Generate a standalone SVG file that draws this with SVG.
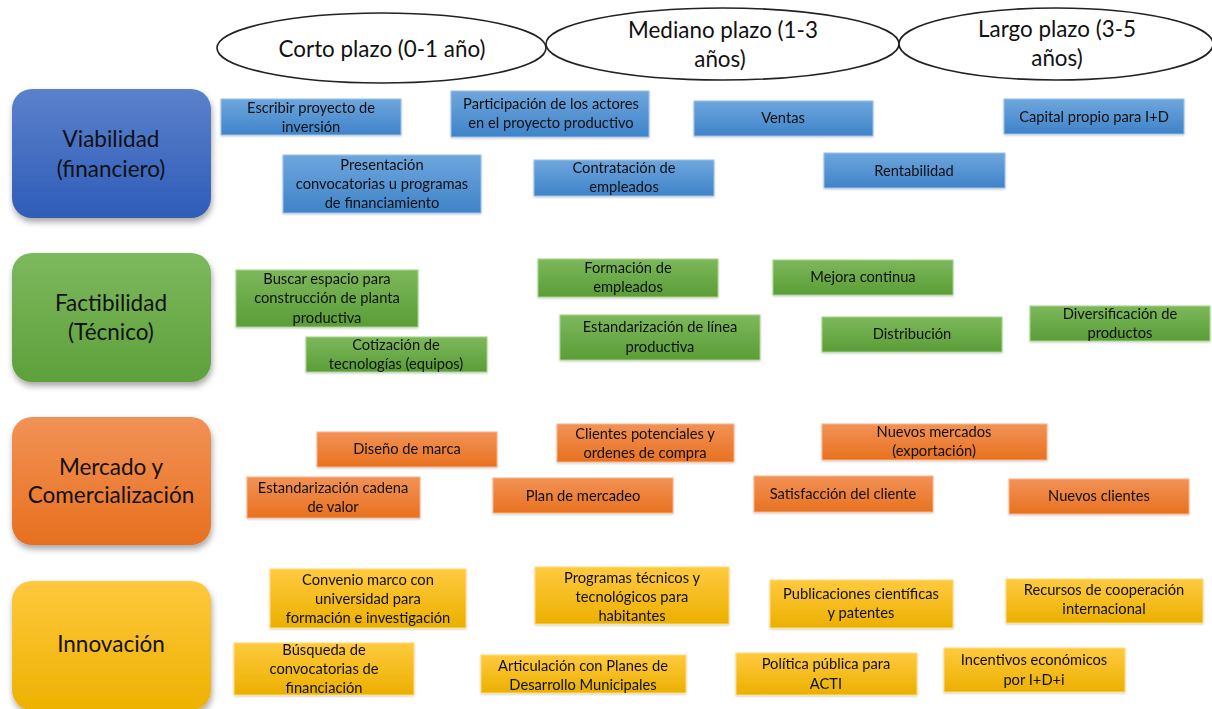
<svg xmlns="http://www.w3.org/2000/svg" width="1212" height="709" viewBox="0 0 1212 709">
<defs>
<linearGradient id="gCatB" x1="0" y1="0" x2="0" y2="1"><stop offset="0" stop-color="#5B81CB"/><stop offset="1" stop-color="#2F5CB9"/></linearGradient>
<linearGradient id="gCatG" x1="0" y1="0" x2="0" y2="1"><stop offset="0" stop-color="#7DB85E"/><stop offset="1" stop-color="#5EA03A"/></linearGradient>
<linearGradient id="gCatO" x1="0" y1="0" x2="0" y2="1"><stop offset="0" stop-color="#F29256"/><stop offset="1" stop-color="#E7701F"/></linearGradient>
<linearGradient id="gCatY" x1="0" y1="0" x2="0" y2="1"><stop offset="0" stop-color="#FFC83E"/><stop offset="1" stop-color="#EDB200"/></linearGradient>
<linearGradient id="gB" x1="0" y1="0" x2="0" y2="1"><stop offset="0" stop-color="#6EA6DD"/><stop offset="1" stop-color="#3F83C9"/></linearGradient>
<linearGradient id="gG" x1="0" y1="0" x2="0" y2="1"><stop offset="0" stop-color="#7DB85C"/><stop offset="1" stop-color="#5A9D36"/></linearGradient>
<linearGradient id="gO" x1="0" y1="0" x2="0" y2="1"><stop offset="0" stop-color="#F29256"/><stop offset="1" stop-color="#E8711F"/></linearGradient>
<linearGradient id="gY" x1="0" y1="0" x2="0" y2="1"><stop offset="0" stop-color="#FFCA3F"/><stop offset="1" stop-color="#EBB000"/></linearGradient>
<filter id="sh" x="-10%" y="-10%" width="125%" height="130%"><feDropShadow dx="1" dy="4" stdDeviation="3" flood-color="#000" flood-opacity="0.35"/></filter>
<filter id="sh2" x="-5%" y="-10%" width="110%" height="130%"><feDropShadow dx="0" dy="1" stdDeviation="1" flood-color="#000" flood-opacity="0.2"/></filter>
</defs>
<style>
.ell{fill:#fff;stroke:#222;stroke-width:1.6}
.et{font-family:Lato,"Liberation Sans",sans-serif;font-size:22.4px;fill:#111;text-anchor:middle}
.cat{stroke:none;filter:url(#sh)}
.ct{font-family:Lato,"Liberation Sans",sans-serif;font-size:22.5px;fill:#111;text-anchor:middle}
.it{filter:url(#sh2)}
.b{fill:url(#gB);stroke:#9CC2EA;stroke-width:1}
.g{fill:url(#gG);stroke:#A6D38A;stroke-width:1}
.o{fill:url(#gO);stroke:#F7B58A;stroke-width:1}
.y{fill:url(#gY);stroke:#FFDD7A;stroke-width:1}
.t{font-family:Lato,"Liberation Sans",sans-serif;font-size:14.7px;fill:#111;text-anchor:middle}
</style>
<rect width="1212" height="709" fill="#fff"/>
<g id="connectors"></g>

<g id="h-corto"><ellipse class="ell" cx="381.5" cy="48" rx="164.5" ry="35"/><text class="et" x="382" y="57">Corto plazo (0-1 año)</text></g>
<g id="h-mediano"><ellipse class="ell" cx="722.5" cy="44" rx="176.5" ry="36"/><text class="et" x="723" y="38">Mediano plazo (1-3</text><text class="et" x="720" y="67">años)</text></g>
<g id="h-largo"><ellipse class="ell" cx="1056" cy="44" rx="157" ry="36"/><text class="et" x="1057" y="37">Largo plazo (3-5</text><text class="et" x="1057" y="66">años)</text></g>

<g id="cat-viabilidad"><rect class="cat" x="12" y="89" width="199" height="129" rx="20" fill="url(#gCatB)"/><text class="ct" x="111" y="147">Viabilidad</text><text class="ct" x="111" y="177">(financiero)</text></g>
<g id="cat-factibilidad"><rect class="cat" x="12" y="253" width="199" height="129" rx="20" fill="url(#gCatG)"/><text class="ct" x="111" y="311">Factibilidad</text><text class="ct" x="111" y="340">(Técnico)</text></g>
<g id="cat-mercado"><rect class="cat" x="12" y="417" width="199" height="128" rx="20" fill="url(#gCatO)"/><text class="ct" x="111" y="475">Mercado y</text><text class="ct" x="111" y="503">Comercialización</text></g>
<g id="cat-innovacion"><rect class="cat" x="12" y="581" width="199" height="129" rx="20" fill="url(#gCatY)"/><text class="ct" x="111" y="652">Innovación</text></g>

<g id="n-escribir" class="it"><rect class="b" x="221" y="99" width="180" height="36"/><text class="t" x="311" y="113">Escribir proyecto de</text><text class="t" x="311" y="132">inversión</text></g>
<g id="n-participacion" class="it"><rect class="b" x="451" y="91" width="198" height="46"/><text class="t" x="551" y="109">Participación de los actores</text><text class="t" x="551" y="128">en el proyecto productivo</text></g>
<g id="n-ventas" class="it"><rect class="b" x="694" y="101" width="179" height="35"/><text class="t" x="783" y="123">Ventas</text></g>
<g id="n-capital" class="it"><rect class="b" x="1004" y="99" width="180" height="35"/><text class="t" x="1094" y="122">Capital propio para I+D</text></g>
<g id="n-presentacion" class="it"><rect class="b" x="283" y="155" width="198" height="58"/><text class="t" x="382" y="170">Presentación</text><text class="t" x="382" y="189">convocatorias u programas</text><text class="t" x="382" y="208">de financiamiento</text></g>
<g id="n-contratacion" class="it"><rect class="b" x="534" y="160" width="180" height="36"/><text class="t" x="624" y="173">Contratación de</text><text class="t" x="624" y="192">empleados</text></g>
<g id="n-rentabilidad" class="it"><rect class="b" x="824" y="153" width="181" height="35"/><text class="t" x="914" y="176">Rentabilidad</text></g>

<g id="n-buscar" class="it"><rect class="g" x="236" y="270" width="182" height="57"/><text class="t" x="327" y="284">Buscar espacio para</text><text class="t" x="327" y="303">construcción de planta</text><text class="t" x="327" y="323">productiva</text></g>
<g id="n-cotizacion" class="it"><rect class="g" x="306" y="337" width="181" height="35"/><text class="t" x="396" y="350">Cotización de</text><text class="t" x="396" y="369">tecnologías (equipos)</text></g>
<g id="n-formacion" class="it"><rect class="g" x="538" y="259" width="180" height="38"/><text class="t" x="628" y="273">Formación de</text><text class="t" x="628" y="292">empleados</text></g>
<g id="n-mejora" class="it"><rect class="g" x="773" y="260" width="180" height="35"/><text class="t" x="863" y="282">Mejora continua</text></g>
<g id="n-estandar-linea" class="it"><rect class="g" x="560" y="315" width="200" height="45"/><text class="t" x="660" y="332">Estandarización de línea</text><text class="t" x="660" y="352">productiva</text></g>
<g id="n-distribucion" class="it"><rect class="g" x="822" y="317" width="180" height="35"/><text class="t" x="912" y="339">Distribución</text></g>
<g id="n-diversificacion" class="it"><rect class="g" x="1030" y="306" width="180" height="35"/><text class="t" x="1120" y="319">Diversificación de</text><text class="t" x="1120" y="338">productos</text></g>

<g id="n-diseno" class="it"><rect class="o" x="317" y="432" width="180" height="35"/><text class="t" x="407" y="454">Diseño de marca</text></g>
<g id="n-clientes-pot" class="it"><rect class="o" x="557" y="424" width="177" height="38"/><text class="t" x="645" y="439">Clientes potenciales y</text><text class="t" x="645" y="458">ordenes de compra</text></g>
<g id="n-nuevos-mercados" class="it"><rect class="o" x="822" y="424" width="225" height="36"/><text class="t" x="934" y="437">Nuevos mercados</text><text class="t" x="934" y="456">(exportación)</text></g>
<g id="n-estandar-cadena" class="it"><rect class="o" x="247" y="477" width="173" height="41"/><text class="t" x="333" y="493">Estandarización cadena</text><text class="t" x="333" y="512">de valor</text></g>
<g id="n-plan" class="it"><rect class="o" x="493" y="478" width="180" height="35"/><text class="t" x="583" y="501">Plan de mercadeo</text></g>
<g id="n-satisfaccion" class="it"><rect class="o" x="754" y="476" width="179" height="36"/><text class="t" x="843" y="499">Satisfacción del cliente</text></g>
<g id="n-nuevos-clientes" class="it"><rect class="o" x="1009" y="479" width="180" height="35"/><text class="t" x="1099" y="501">Nuevos clientes</text></g>

<g id="n-convenio" class="it"><rect class="y" x="270" y="569" width="196" height="59"/><text class="t" x="368" y="585">Convenio marco con</text><text class="t" x="368" y="604">universidad para</text><text class="t" x="368" y="623">formación e investigación</text></g>
<g id="n-programas" class="it"><rect class="y" x="535" y="567" width="194" height="57"/><text class="t" x="632" y="583">Programas técnicos y</text><text class="t" x="632" y="602">tecnológicos para</text><text class="t" x="632" y="621">habitantes</text></g>
<g id="n-publicaciones" class="it"><rect class="y" x="770" y="580" width="183" height="48"/><text class="t" x="861" y="599">Publicaciones científicas</text><text class="t" x="861" y="618">y patentes</text></g>
<g id="n-recursos" class="it"><rect class="y" x="1006" y="579" width="197" height="44"/><text class="t" x="1104" y="595">Recursos de cooperación</text><text class="t" x="1104" y="614">internacional</text></g>
<g id="n-busqueda" class="it"><rect class="y" x="234" y="643" width="180" height="52"/><text class="t" x="324" y="655">Búsqueda de</text><text class="t" x="324" y="674">convocatorias de</text><text class="t" x="324" y="693">financiación</text></g>
<g id="n-articulacion" class="it"><rect class="y" x="481" y="655" width="205" height="38"/><text class="t" x="583" y="671">Articulación con Planes de</text><text class="t" x="583" y="690">Desarrollo Municipales</text></g>
<g id="n-politica" class="it"><rect class="y" x="736" y="653" width="181" height="42"/><text class="t" x="826" y="669">Política pública para</text><text class="t" x="826" y="689">ACTI</text></g>
<g id="n-incentivos" class="it"><rect class="y" x="944" y="648" width="181" height="44"/><text class="t" x="1034" y="665">Incentivos económicos</text><text class="t" x="1034" y="685">por I+D+i</text></g>
</svg>
